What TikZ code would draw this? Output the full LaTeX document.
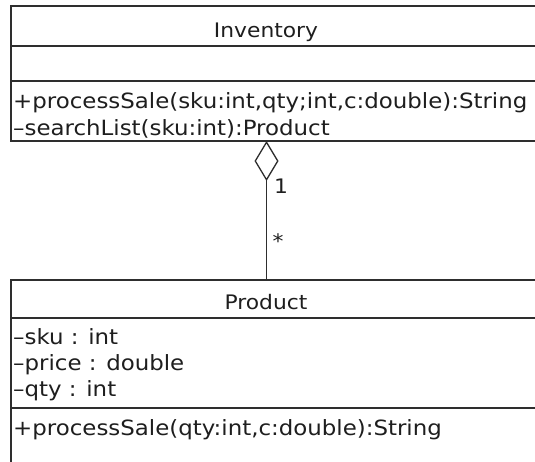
\documentclass[tikz,border=0pt]{standalone}
\usepackage{fontspec}
\setmainfont{DejaVu Sans}[FakeStretch=1.09]
\usetikzlibrary{arrows.meta}
\definecolor{umlline}{HTML}{2E2E2E}
\definecolor{umltext}{HTML}{1E1E1E}
\begin{document}
\begin{tikzpicture}[x=1pt,y=1pt,
  compartment/.style={draw=umlline, line width=1.3pt, minimum width=560pt,
    anchor=north west, inner sep=0pt, outer sep=0pt},
  classname/.style={anchor=base, inner sep=0pt, text=umltext, font=\fontsize{20}{22}\selectfont},
  member/.style={anchor=base west, inner sep=0pt, text=umltext, font=\fontsize{21}{23}\selectfont},
  mult/.style={inner sep=0pt, text=umltext, font=\fontsize{20}{22}\selectfont},
  aggregation/.style={draw=umlline, line width=1.3pt,
    -{Diamond[open, length=40pt, width=24pt, line width=1.3pt]}}]
\useasboundingbox (0,0) rectangle (535,461);
\fill[white] (0,0) rectangle (535,461);
\clip (0,0) rectangle (535,461);

% Inventory class
\node[compartment, minimum height=40pt] (invname) at (11,455) {};
\node[compartment, minimum height=35pt] (invattr) at (invname.south west) {};
\node[compartment, minimum height=60pt] (invops) at (invattr.south west) {};
\node[classname] (invtitle) at (266,423.5) {Inventory};
\node[member] (invop1) at (13,352) {+processSale(sku:int,qty;int,c:double):String};
\node[member] (invop2) at (13,325) {–searchList(sku:int):Product};

% Product class
\node[compartment, minimum height=38pt] (prodname) at (11,181) {};
\node[compartment, minimum height=90pt] (prodattr) at (prodname.south west) {};
\node[compartment, minimum height=80pt] (prodops) at (prodattr.south west) {};
\node[classname] (prodtitle) at (266,152) {Product};
\node[member] (prodat1) at (13,117) {–sku : int};
\node[member] (prodat2) at (13,91) {–price : double};
\node[member] (prodat3) at (13,65) {–qty : int};
\node[member] (prodop1) at (13,26) {+processSale(qty:int,c:double):String};

% Aggregation: Inventory (1) holds Product (*)
\coordinate (axis) at (266.5,0);
\draw[aggregation] (prodname.north -| axis) -- (invops.south -| axis);
\node[mult] (multone) at (281,275) {1};
\node[mult] (multmany) at (278,220) {*};
\end{tikzpicture}
\end{document}
